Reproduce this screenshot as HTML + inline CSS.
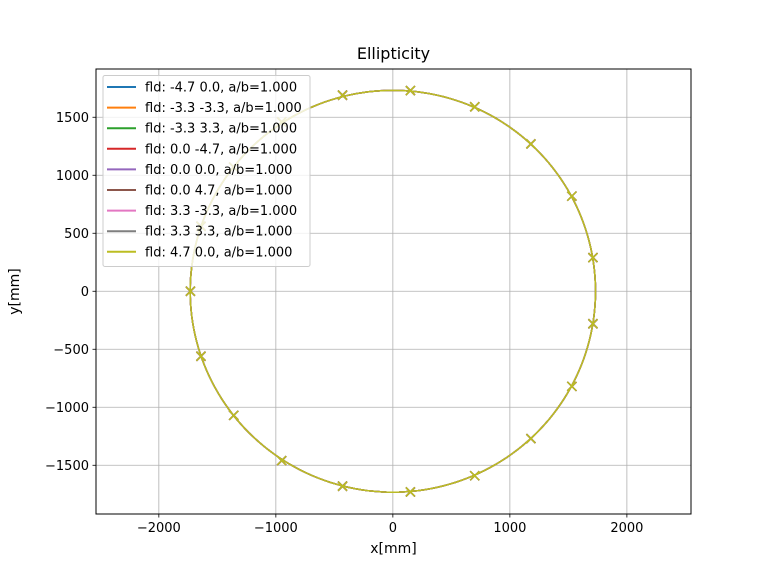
<!DOCTYPE html>
<html><head><meta charset="utf-8"><style>
html,body{margin:0;padding:0;background:#fff;}
svg text{font-family:"DejaVu Sans","Liberation Sans",sans-serif;fill:#000;}
</style></head><body>
<svg id="chart" width="768" height="576" viewBox="0 0 768 576">
<rect width="768" height="576" fill="#fff"/>
<text x="393.5" y="59" font-size="16" text-anchor="middle">Ellipticity</text>
<g id="grid"></g>
<g id="series"></g>
<rect x="96" y="69" width="595" height="445" fill="none" stroke="#000" stroke-width="1"/>
<g id="ticks"></g>
<text x="393.5" y="553" font-size="14" text-anchor="middle">x[mm]</text>
<text x="19" y="291.5" font-size="14" text-anchor="middle" transform="rotate(-90 19 291.5)">y[mm]</text>
<g id="legend"></g>
</svg>
<script>
const xTicks = [-2000, -1000, 0, 1000, 2000];
const yTicks = [-1500, -1000, -500, 0, 500, 1000, 1500];
const labels = ["fld: -4.7 0.0, a/b=1.000","fld: -3.3 -3.3, a/b=1.000","fld: -3.3 3.3, a/b=1.000","fld: 0.0 -4.7, a/b=1.000","fld: 0.0 0.0, a/b=1.000","fld: 0.0 4.7, a/b=1.000","fld: 3.3 -3.3, a/b=1.000","fld: 3.3 3.3, a/b=1.000","fld: 4.7 0.0, a/b=1.000"];
const colors = ["#1f77b4","#ff7f0e","#2ca02c","#d62728","#9467bd","#8c564b","#e377c2","#7f7f7f","#bcbd22"];
const radius = [1732, 1732, 1732, 1732, 1732, 1732, 1732, 1732, 1732];
const markX = [1710, 1530, 1180, 700, 150, -430, -950, -1360, -1640, -1730, -1640, -1360, -950, -430, 150, 700, 1180, 1530, 1710];
const markY = [290, 820, 1270, 1590, 1730, 1690, 1460, 1070, 560, 0, -560, -1070, -1460, -1680, -1730, -1590, -1270, -820, -280];

const NS = "http://www.w3.org/2000/svg";
const X0 = 96, X1 = 691, Y0 = 69, Y1 = 514;
const xmin = -2537, xmax = 2548, ymin = -1920, ymax = 1916;
function sx(v){ return X0 + (v - xmin) / (xmax - xmin) * (X1 - X0); }
function sy(v){ return Y1 - (v - ymin) / (ymax - ymin) * (Y1 - Y0); }
function mk(tag, attrs, parent){ const e = document.createElementNS(NS, tag); for (const k in attrs) e.setAttribute(k, attrs[k]); parent.appendChild(e); return e; }

const grid = document.getElementById('grid'), ticks = document.getElementById('ticks');
xTicks.forEach(t => {
  const x = sx(t);
  const g = mk('line', {x1:x, x2:x, y1:Y0, y2:Y1, stroke:'#b0b0b0', 'stroke-width':0.8}, grid);
  
  
  const tk = mk('line', {x1:x, x2:x, y1:Y1, y2:Y1+3.5, stroke:'#000', 'stroke-width':0.8}, ticks);
  
  
  const tx = mk('text', {x:x, y:Y1+18, 'font-size':13, 'text-anchor':'middle'}, ticks);
  tx.textContent = String(t).replace('-', '\u2212');
  
  
});
yTicks.forEach(t => {
  const y = sy(t);
  const g = mk('line', {x1:X0, x2:X1, y1:y, y2:y, stroke:'#b0b0b0', 'stroke-width':0.8}, grid);
  
  
  const tk = mk('line', {x1:X0-3.5, x2:X0, y1:y, y2:y, stroke:'#000', 'stroke-width':0.8}, ticks);
  
  
  const tx = mk('text', {x:X0-7, y:y+4.5, 'font-size':13, 'text-anchor':'end'}, ticks);
  tx.textContent = String(t).replace('-', '\u2212');
  
  
});

const series = document.getElementById('series');
colors.forEach((c, i) => {
  const r = radius[i];
  const pts = [];
  for (let k = 0; k <= 200; k++) { const a = k / 200 * 2 * Math.PI; pts.push(sx(r*Math.cos(a)).toFixed(2) + ',' + sy(r*Math.sin(a)).toFixed(2)); }
  const pl = mk('polyline', {points: pts.join(' '), fill:'none', stroke:c, 'stroke-width':1.5}, series);
  
  
  markX.forEach((mx, j) => {
    const x = sx(mx), y = sy(markY[j]), d = 4.5;
    const p = mk('path', {d:`M${x-d},${y-d}L${x+d},${y+d}M${x-d},${y+d}L${x+d},${y-d}`, stroke:c, 'stroke-width':1.5, fill:'none'}, series);
    
    
  });
});

const legend = document.getElementById('legend');
const box = mk('rect', {x:103, y:75.5, width:207, height:191, rx:2, fill:'#fff', 'fill-opacity':0.8, stroke:'#ccc', 'stroke-width':1}, legend);


labels.forEach((lab, i) => {
  const y = 87 + i * 20.6;
  const ln = mk('line', {x1:107, x2:136, y1:y, y2:y, stroke:colors[i], 'stroke-width':2}, legend);
  
  
  const t = mk('text', {x:145, y:y+4.5, 'font-size':13}, legend);
  t.textContent = lab;
  
  
});
</script>
</body></html>
